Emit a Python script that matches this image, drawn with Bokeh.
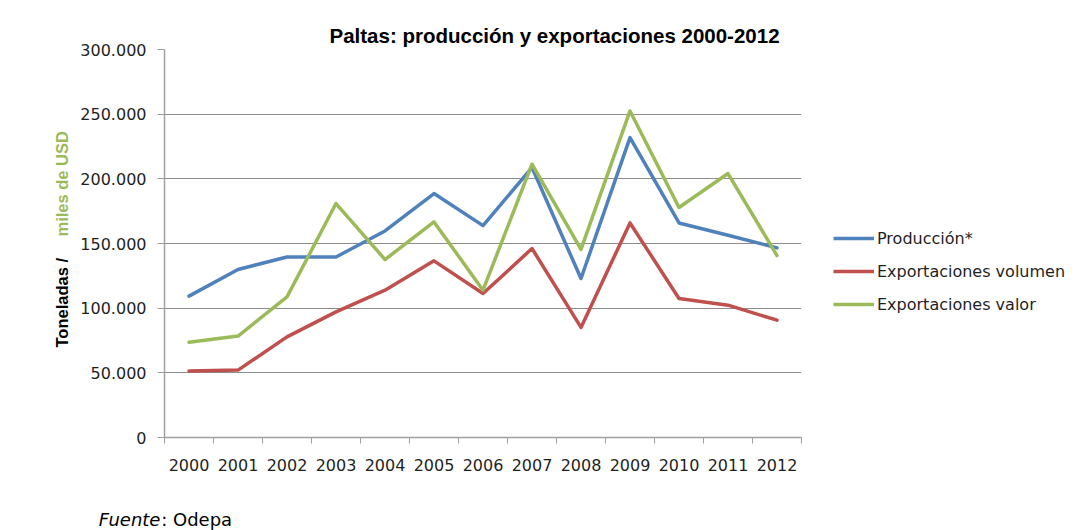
import math
from bokeh.plotting import figure
from bokeh.layouts import row
from bokeh.models import (Label, Legend, LegendItem, FixedTicker, Range1d)
from bokeh.embed import file_html
from bokeh.resources import INLINE

# ---- data ----
years = [2000, 2001, 2002, 2003, 2004, 2005, 2006, 2007, 2008, 2009, 2010, 2011, 2012]
produccion = [109300, 129900, 139600, 139600, 159700, 188600, 163800,
              208700, 122900, 231900, 165900, 156400, 146600]
export_volumen = [51500, 52100, 77800, 97100, 113900, 136600, 111300,
                  146100, 85100, 165900, 107500, 102300, 90700]
export_valor = [73700, 78400, 108700, 180900, 137600, 166700, 113900,
                211300, 145400, 252500, 177800, 204100, 140700]
series_names = ["Producción*", "Exportaciones volumen", "Exportaciones valor"]
y_ticks = [0, 50000, 100000, 150000, 200000, 250000, 300000]
title_text = "Paltas: producción y exportaciones 2000-2012"

colors = ["#4F81BD", "#C0504D", "#9BBB59"]
FONT = "DejaVu Sans"
TXT = "#1f1f1f"
series = [produccion, export_volumen, export_valor]

W1, W2, H = 807, 270, 530
p = figure(width=W1, height=H, output_backend="svg", toolbar_location=None,
           x_range=Range1d(years[0] - 0.5, years[-1] + 0.5),
           y_range=Range1d(0, 300000),
           min_border_left=164, min_border_right=6,
           min_border_top=49, min_border_bottom=93)
p.outline_line_color = None
p.background_fill_color = "white"
p.border_fill_color = "white"

# title
p.title.text = title_text
p.title.align = "left"
p.title.offset = 165
p.title.standoff = 5
p.title.text_font = "Liberation Sans"
p.title.text_font_style = "bold"
p.title.text_font_size = "20.5px"
p.title.text_color = "#000000"

# grid
p.xgrid.grid_line_color = None
p.ygrid.grid_line_color = "#8C8C8C"
p.ygrid.grid_line_width = 1
p.ygrid.ticker = FixedTicker(ticks=y_ticks)

# y axis
p.yaxis.ticker = FixedTicker(ticks=y_ticks)
p.yaxis.major_label_overrides = {v: f"{v:,}".replace(",", ".") for v in y_ticks}
p.yaxis.axis_line_color = "#A0A0A0"
p.yaxis.axis_line_width = 1.5
p.yaxis.major_tick_line_color = "#A0A0A0"
p.yaxis.major_tick_in = 0
p.yaxis.major_tick_out = 7
p.yaxis.minor_tick_line_color = None
p.yaxis.major_label_standoff = 11
p.yaxis.major_label_text_font = FONT
p.yaxis.major_label_text_font_size = "16px"
p.yaxis.major_label_text_color = TXT

# x axis: labels at years, tick marks between categories
boundaries = [y - 0.5 for y in years] + [years[-1] + 0.5]
p.xaxis.ticker = FixedTicker(ticks=years, minor_ticks=boundaries)
p.xaxis.major_label_overrides = {y: str(y) for y in years}
p.xaxis.axis_line_color = "#A0A0A0"
p.xaxis.axis_line_width = 1.5
p.xaxis.major_tick_line_color = None
p.xaxis.major_tick_in = 0
p.xaxis.major_tick_out = 0
p.xaxis.minor_tick_line_color = "#A0A0A0"
p.xaxis.minor_tick_in = 0
p.xaxis.minor_tick_out = 6
p.xaxis.major_label_standoff = 15
p.xaxis.major_label_text_font = FONT
p.xaxis.major_label_text_font_size = "16px"
p.xaxis.major_label_text_color = TXT

# lines
for vals, c in zip(series, colors):
    p.line(years, vals, line_color=c, line_width=3.5, line_join="round",
           line_cap="round")

# y axis label (two colours)
p.add_layout(Label(x=61.5, y=347, x_units="canvas", y_units="canvas",
                   text="Toneladas / ", angle=math.pi / 2,
                   text_align="left", text_baseline="middle",
                   text_font="Liberation Sans", text_font_style="bold",
                   text_font_size="16.5px", text_color="#000000"), "left")
p.add_layout(Label(x=61.5, y=236, x_units="canvas", y_units="canvas",
                   text="miles de USD", angle=math.pi / 2,
                   text_align="left", text_baseline="middle",
                   text_font="Liberation Sans", text_font_style="bold",
                   text_font_size="16.5px", text_color="#9BBB59"), "left")

# source
p.add_layout(Label(x=98.3, y=519.3, x_units="canvas", y_units="canvas",
                   text="Fuente", text_align="left",
                   text_baseline="alphabetic", text_font=FONT,
                   text_font_style="italic", text_font_size="18px",
                   text_color="#000000"), "below")
p.add_layout(Label(x=160.7, y=519.3, x_units="canvas", y_units="canvas",
                   text=": Odepa", text_align="left",
                   text_baseline="alphabetic", text_font=FONT,
                   text_font_size="18px", text_color="#000000"), "below")

# ---- legend panel (separate canvas to the right) ----
p2 = figure(width=W2, height=H, output_backend="svg", toolbar_location=None,
            x_axis_location=None, y_axis_location=None, min_border=0)
p2.outline_line_color = None
p2.xgrid.grid_line_color = None
p2.ygrid.grid_line_color = None
p2.background_fill_color = "white"
p2.border_fill_color = "white"
# single-point proxies (draw nothing themselves) that carry the legend styles
legend_renderers = [p2.line([years[0]], [vals[0]], line_color=c, line_width=3.5)
                    for vals, c in zip(series, colors)]
legend = Legend(items=[LegendItem(label=n, renderers=[r])
                       for n, r in zip(series_names, legend_renderers)],
                location=(26, 123), orientation="vertical",
                glyph_width=41, glyph_height=20, label_height=20,
                label_standoff=3, spacing=13, padding=0, margin=0,
                border_line_color=None, background_fill_alpha=0,
                label_text_font=FONT, label_text_font_size="16px",
                label_text_color=TXT)
p2.add_layout(legend)

open("out.html", "w").write(file_html(row(p, p2), INLINE))
